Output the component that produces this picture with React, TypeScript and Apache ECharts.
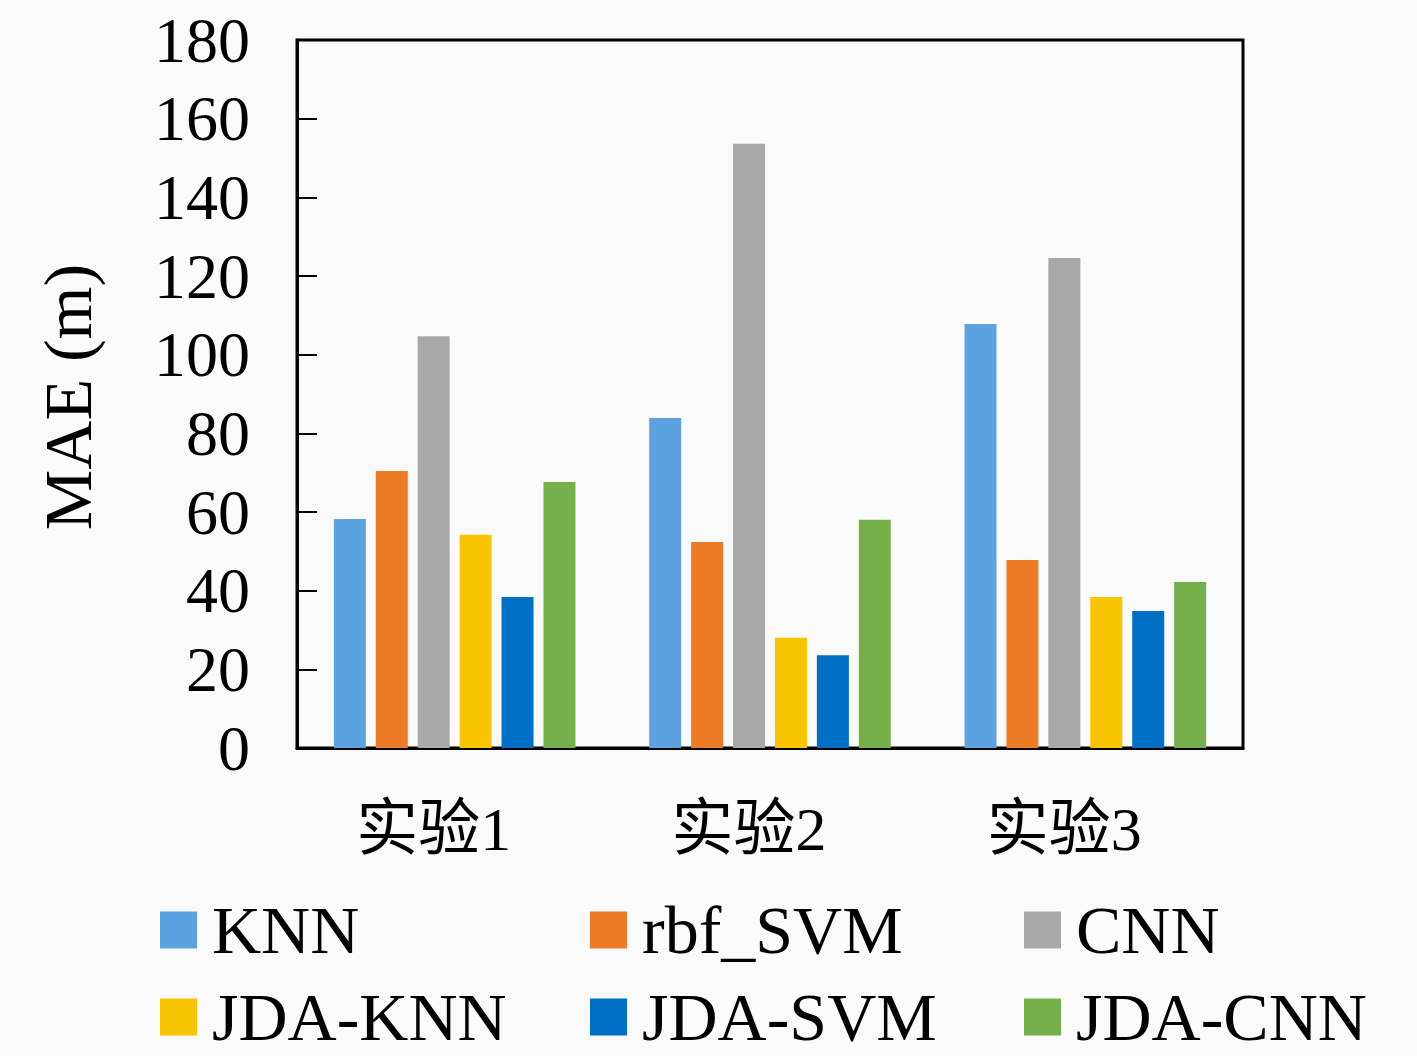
import React, { useEffect, useRef } from "react";
import * as echarts from "echarts";

const categories = ["实验1", "实验2", "实验3"];
const seriesNames = ["KNN", "rbf_SVM", "CNN", "JDA-KNN", "JDA-SVM", "JDA-CNN"];
const knn = [58.2, 83.9, 107.8];
const rbfSvm = [70.4, 52.4, 47.8];
const cnn = [104.7, 153.6, 124.6];
const jdaKnn = [54.2, 28.0, 38.4];
const jdaSvm = [38.4, 23.6, 34.8];
const jdaCnn = [67.6, 58.0, 42.2];
const colors = ["#5BA3E0", "#EE7B26", "#A8A8A8", "#F8C400", "#0070C6", "#76B04A"];
const yTicks = { min: 0, max: 180, interval: 20 };

const seriesValues = [knn, rbfSvm, cnn, jdaKnn, jdaSvm, jdaCnn];

const FONT = "'Liberation Serif', 'Noto Sans CJK SC', serif";
const CJK_FONT = "'Liberation Serif', 'Noto Sans CJK SC', serif";

export default function App() {
  const ref = useRef<HTMLDivElement>(null);
  useEffect(() => {
    document.body.style.margin = "0";
    const chart = echarts.init(ref.current!, null, { renderer: "svg" });
    const legendCommon = {
      orient: "vertical",
      top: 896,
      height: 400,
      itemWidth: 37,
      itemHeight: 37,
      itemGap: 19,
      icon: "rect",
      padding: 0,
      textStyle: {
        fontFamily: FONT,
        fontSize: 68,
        color: "#000",
        lineHeight: 50,
        padding: [0, 0, 0, 10],
      },
    };
    chart.setOption({
      animation: false,
      backgroundColor: "#FAFAFA",
      grid: {
        left: 297,
        right: 174,
        top: 40,
        bottom: 308,
        show: true,
        borderColor: "#000",
        borderWidth: 3,
        backgroundColor: "transparent",
      },
      legend: [
        { ...legendCommon, left: 160, data: [seriesNames[0], seriesNames[3]] },
        { ...legendCommon, left: 590, data: [seriesNames[1], seriesNames[4]] },
        { ...legendCommon, left: 1024, data: [seriesNames[2], seriesNames[5]] },
      ],
      xAxis: {
        type: "category",
        data: categories,
        axisLine: { show: true, lineStyle: { color: "#000", width: 3 } },
        axisTick: { show: false },
        axisLabel: {
          fontFamily: CJK_FONT,
          fontSize: 62,
          color: "#000",
          margin: 50,
          padding: [0, 42, 0, 0],
        },
      },
      yAxis: {
        type: "value",
        min: yTicks.min,
        max: yTicks.max,
        interval: yTicks.interval,
        splitLine: { show: false },
        axisLine: { show: true, lineStyle: { color: "#000", width: 3 } },
        axisTick: { show: true, inside: true, length: 20, lineStyle: { color: "#000", width: 2 } },
        axisLabel: {
          fontFamily: FONT,
          fontSize: 64,
          color: "#000",
          margin: 47,
        },
      },
      graphic: [
        {
          type: "text",
          x: 68,
          y: 397,
          rotation: Math.PI / 2,
          style: {
            text: "MAE (m)",
            fontFamily: FONT,
            fontSize: 68,
            fill: "#000",
            align: "center",
            verticalAlign: "middle",
          },
        },
      ],
      series: seriesNames.map((name, i) => ({
        name,
        type: "bar",
        data: seriesValues[i],
        barWidth: 32,
        barGap: "31%",
        itemStyle: { color: colors[i] },
      })),
    });
    return () => chart.dispose();
  }, []);
  return <div ref={ref} style={{ width: 1417, height: 1056 }} />;
}
